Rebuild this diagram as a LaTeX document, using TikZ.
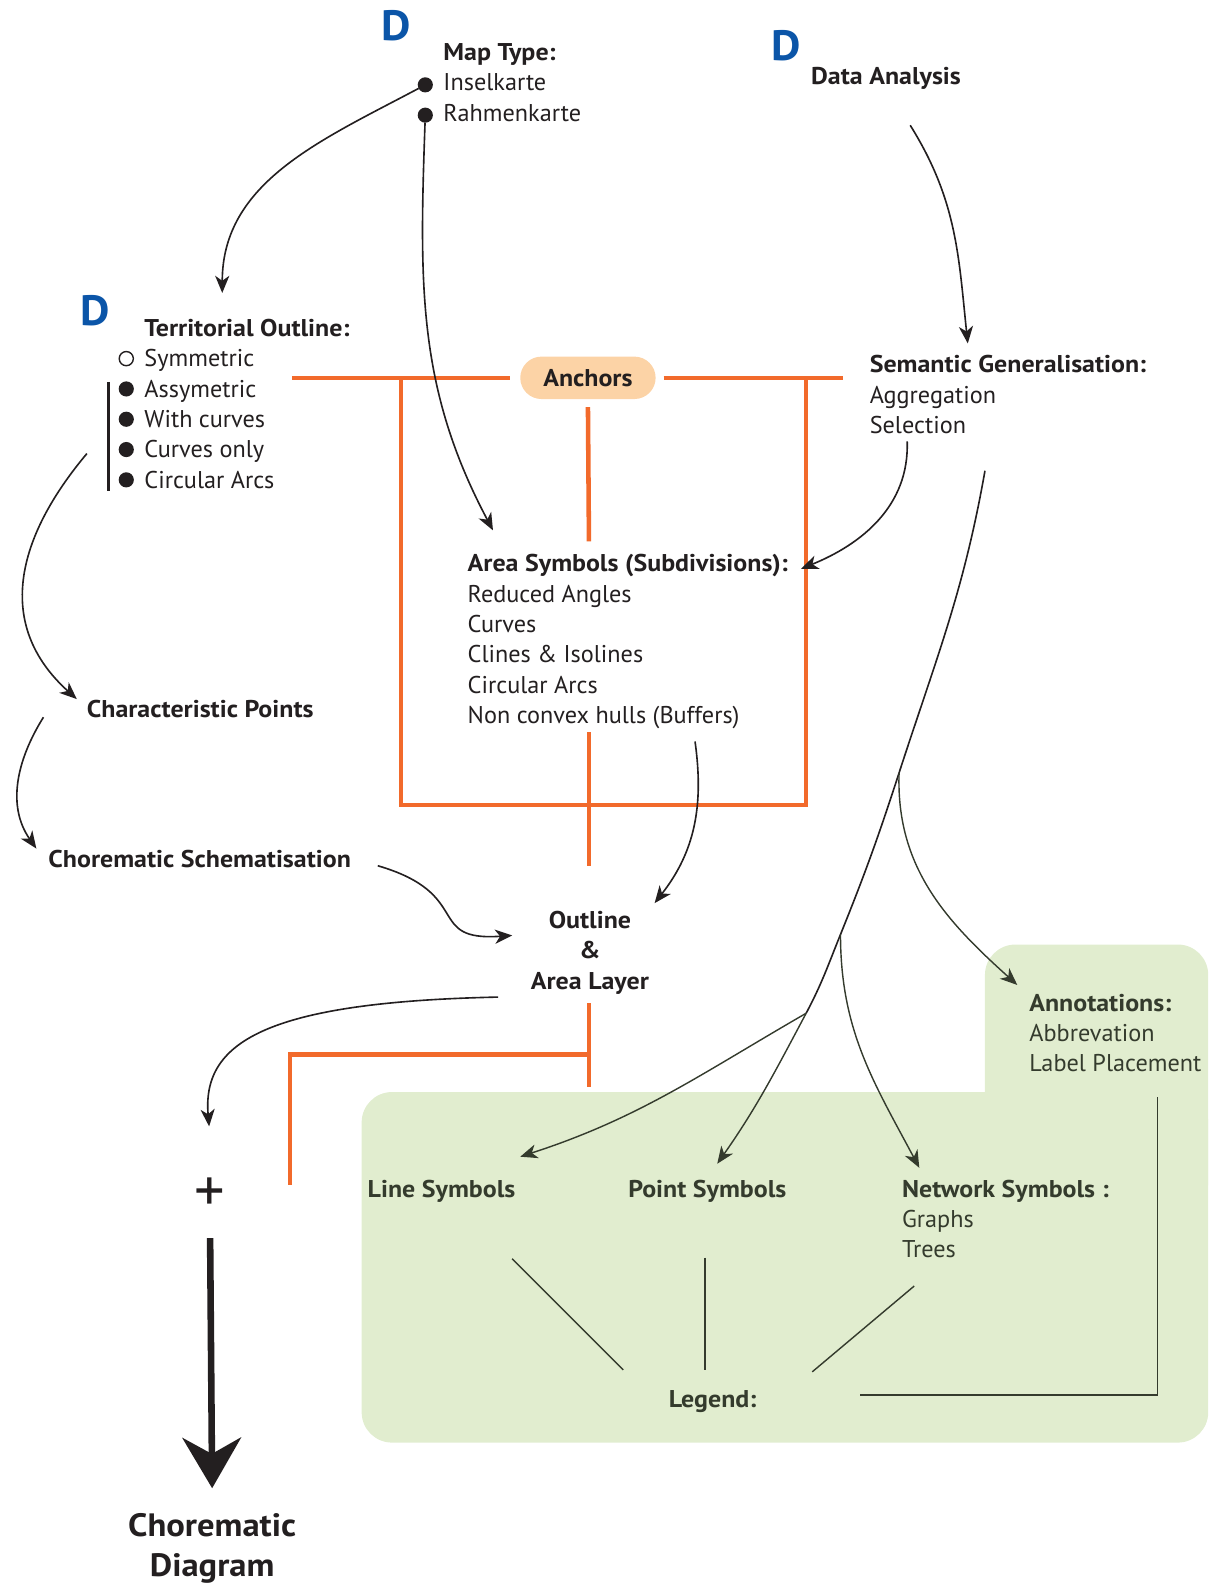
\documentclass[tikz,border=0pt]{standalone}
\usepackage{fontspec}
\setmainfont{PT Sans}[BoldFeatures={FakeStretch=1.07}]
\usetikzlibrary{arrows.meta}
\definecolor{choreOrange}{HTML}{F26A2B}
\definecolor{choreGreen}{HTML}{E1EDCF}
\definecolor{chorePeach}{HTML}{FCD3A6}
\definecolor{choreBlue}{HTML}{0B55A8}
\definecolor{choreInk}{HTML}{231F20}
\definecolor{choreOlive}{HTML}{343B2D}
\tikzset{
  chore diagram/.style={
    x=1pt, y=1pt, line width=1.6pt, color=choreInk,
    >={Stealth[length=17pt,width=14pt,inset=5pt]},
    every node/.style={font=\fontsize{24}{30}\selectfont,
      text=choreInk, inner sep=0pt, outer sep=0pt}
  },
  chore block/.style={anchor=north west, align=left},
  chore green/.style={text=choreOlive},
  chore link/.style={->, draw=choreInk},
  chore branch/.style={->, draw=choreOlive, line width=1.4pt},
  chore rule/.style={draw=choreOlive, line width=1.4pt},
  chore anchor/.style={draw=choreOrange, line width=4.5pt},
  chore dee/.style={font=\fontsize{42}{42}\selectfont\bfseries, text=choreBlue},
  chore dot/.style={circle, fill=choreInk, minimum size=15pt},
  chore ring/.style={circle, draw=choreInk, line width=1.4pt, minimum size=14pt}
}

\begin{document}
\begin{tikzpicture}[chore diagram]
  \useasboundingbox (0,0) rectangle (1196,-1568);
  % green panel
  \fill[choreGreen, rounded corners=30pt] (975,-935) rectangle (1196,-1200);
  \fill[choreGreen, rounded corners=30pt] (358,-1081) rectangle (1196,-1428);

  % anchors bracket
  \node[fill=chorePeach, rounded corners=21pt, minimum width=134pt, minimum height=42pt,
    font=\fontsize{24}{30}\selectfont\bfseries] (anchors) at (582,-374) {Anchors};
  \draw[chore anchor] (289,-374) -- ([xshift=-10]anchors.west);
  \draw[chore anchor] ([xshift=8]anchors.east) -- (834,-374);
  \draw[chore anchor] (397,-374) -- (397,-797) -- (798,-797) -- (798,-374);
  \draw[chore anchor] ([yshift=-8]anchors.south) -- (583,-536);
  \draw[chore anchor] (583,-725) -- (583,-857);
  \draw[chore anchor] (583,-993) -- (583,-1076);
  \draw[chore anchor] (583,-1044) -- (287,-1044) -- (287,-1173);

  \node[chore dee] (dMap) at (392,-25) {D};
  \node[chore dee] (dData) at (778,-45) {D};
  \node[chore dee] (dTerr) at (94,-308) {D};

  \node[chore block] (mapType) at (439,-43) {\textbf{Map Type:}\\Inselkarte\\Rahmenkarte};
  \node[chore dot] (bInsel) at (421,-84) {};
  \node[chore dot] (bRahmen) at (421,-114) {};
  \node[chore block] (dataAnalysis) at (803,-67) {\textbf{Data Analysis}};

  \node[chore block] (territorial) at (143,-316)
    {\textbf{Territorial Outline:}\\Symmetric\\Assymetric\\With curves\\Curves only\\Circular Arcs};
  \node[chore ring] (bSym) at (125,-355) {};
  \foreach \i/\y in {1/385,2/415,3/445,4/475}
    \node[chore dot] (bTerr\i) at (125,-\y) {};
  \draw[line width=3pt] (107,-378) -- (107,-486);

  \node[chore block] (semantic) at (861,-352) {\textbf{Semantic Generalisation:}\\Aggregation\\Selection};
  \node[chore block] (areaSym) at (463,-549)
    {\textbf{Area Symbols (Subdivisions):}\\Reduced Angles\\Curves\\Clines \& Isolines\\Circular Arcs\\Non convex hulls (Buffers)};
  \node[chore block] (charPoints) at (86,-693) {\textbf{Characteristic Points}};
  \node[chore block] (schem) at (48,-842) {\textbf{Chorematic Schematisation}};
  \node[align=center, font=\fontsize{24}{30}\selectfont\bfseries] (outline) at (584,-943) {Outline\\\&\\Area Layer};

  \node[chore block, chore green] (annot) at (1019,-984) {\textbf{Annotations:}\\Abbrevation\\Label Placement};
  \node[chore block, chore green] (lineSym) at (364,-1168) {\textbf{Line Symbols}};
  \node[chore block, chore green] (pointSym) at (622,-1168) {\textbf{Point Symbols}};
  \node[chore block, chore green] (network) at (893,-1168) {\textbf{Network Symbols :}\\Graphs\\Trees};
  \node[chore block, chore green] (legend) at (662,-1376) {\textbf{Legend:}};

  \node[font=\fontsize{60}{60}\selectfont] (plus) at (208,-1183) {+};
  \node[align=center, font=\fontsize{32}{40}\selectfont\bfseries] (result) at (210,-1533) {Chorematic\\Diagram};

  % flow arrows
  \draw[chore link] (bInsel) to[out=-152,in=90] ([shift={(77,26)}]territorial.north west);
  \draw[chore link] (bRahmen) to[out=-92,in=118] ([shift={(25,24)}]areaSym.north west);
  \draw[chore link] ([shift={(98,-57)}]dataAnalysis.north west) to[out=-58,in=96] ([shift={(97,12)}]semantic.north west);
  \draw[chore link] ([shift={(37,-85)}]semantic.north west) to[out=-88,in=22] ([shift={(330,-14)}]areaSym.north west);
  \draw[chore link] ([shift={(-57,-133)}]territorial.north west) to[out=-130,in=138,looseness=1.15] ([shift={(-10,1)}]charPoints.north west);
  \draw[chore link] ([shift={(-43,-17)}]charPoints.north west) to[out=-122,in=125] ([shift={(-12,2)}]schem.north west);
  \draw[chore link] ([shift={(326,-15)}]schem.north west) .. controls +(96,-28) and +(-87,-6) .. ([shift={(-77,17)}]outline.center);
  \draw[chore link] ([shift={(225,-185)}]areaSym.north west) to[out=-82,in=52] ([shift={(64,49)}]outline.center);
  \draw[chore link] ([shift={(-91,-44)}]outline.center) .. controls +(-233,-5) and +(-7,82) .. ([shift={(-1,68)}]plus.center);
  \draw[line width=6.5pt, -{Stealth[length=50pt,width=58pt,inset=16pt]}]
    ([yshift=-26]plus.south) -- ([yshift=25]result.north);

  % symbol branches
  \coordinate (trunkTop) at ([shift={(114,-114)}]semantic.north west);
  \coordinate (forkAnnot) at (890,-765);
  \coordinate (forkNet) at (832,-925);
  \coordinate (forkPoint) at (798,-1003);
  \draw (trunkTop) to[out=-100,in=72] (forkAnnot) to[out=-108,in=68] (forkNet) to[out=-112,in=62] (forkPoint);
  \draw[chore branch] (forkAnnot) to[out=-92,in=138] ([shift={(-12,9)}]annot.north west);
  \draw[chore branch] (forkNet) to[out=-90,in=118] ([shift={(17,12)}]network.north west);
  \draw[chore branch] (forkPoint) to[out=-118,in=55] ([shift={(88,16)}]pointSym.north west);
  \draw[chore branch] (forkPoint) to[out=-150,in=18] ([shift={(151,23)}]lineSym.north west);

  % legend
  \draw[chore rule] ([shift={(143,-78)}]lineSym.north west) -- ([shift={(-45,20)}]legend.north west);
  \draw[chore rule] ([shift={(76,-77)}]pointSym.north west) -- ([shift={(36,20)}]legend.north west);
  \draw[chore rule] ([shift={(12,-105)}]network.north west) -- ([shift={(142,18)}]legend.north west);
  \draw[chore rule] ([shift={(127,-102)}]annot.north west) |- ([shift={(189,-5)}]legend.north west);
\end{tikzpicture}
\end{document}
